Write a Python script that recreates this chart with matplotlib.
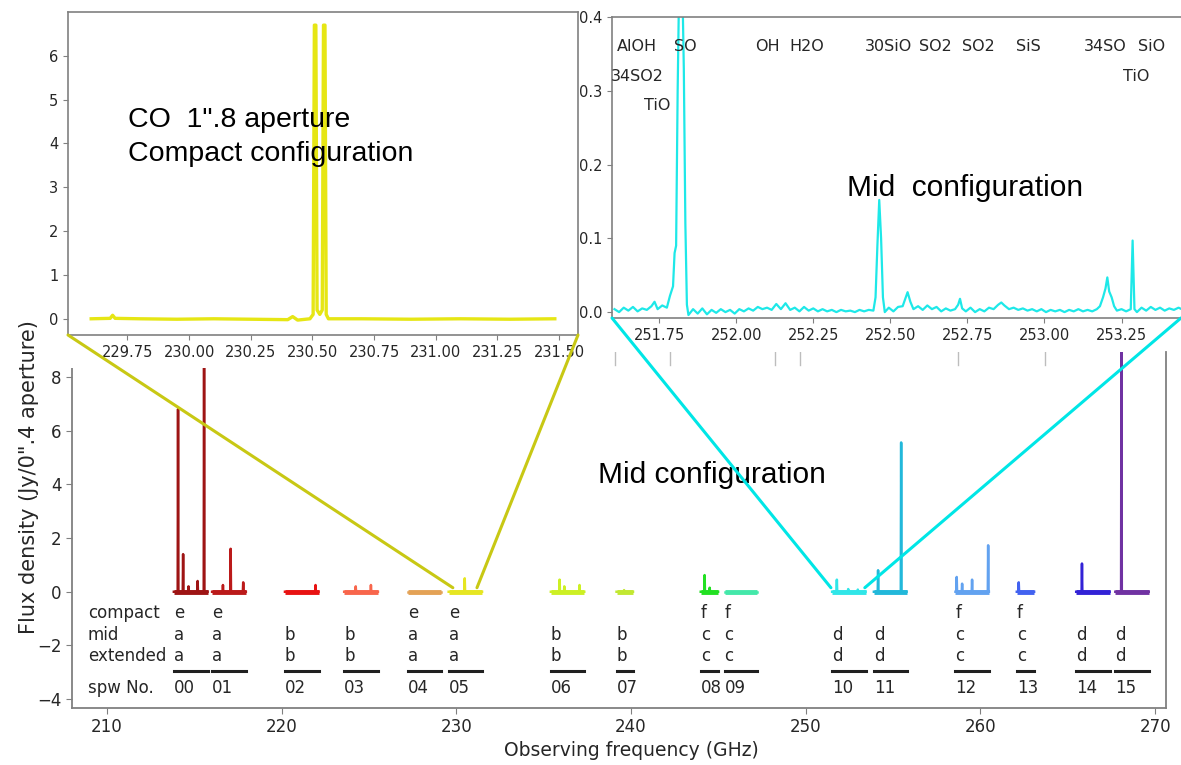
import numpy as np
import matplotlib
matplotlib.use('Agg')
import matplotlib.pyplot as plt
from matplotlib.patches import ConnectionPatch, Rectangle

# spectral windows of the full spectrum (GHz)
spw_names = ['00', '01', '02', '03', '04', '05', '06', '07',
             '08', '09', '10', '11', '12', '13', '14', '15']
spw_start = [213.83, 216.02, 220.19, 223.58, 227.24, 229.56, 235.41, 239.17,
             243.99, 245.35, 251.51, 253.90, 258.57, 262.08, 265.48, 267.72]
spw_end = [215.76, 217.95, 222.11, 225.51, 229.10, 231.47, 237.32, 240.11,
           244.98, 247.21, 253.42, 255.77, 260.48, 263.07, 267.39, 269.63]
spw_peaks = [
    [(214.07, 6.8), (214.36, 1.4), (214.67, 0.2), (215.19, 0.4), (215.56, 9.5)],
    [(216.64, 0.25), (217.08, 1.6), (217.80, 0.35)],
    [(221.94, 0.25)],
    [(224.24, 0.2), (225.11, 0.25)],
    [],
    [(230.48, 0.5)],
    [(235.91, 0.45), (236.18, 0.2), (237.05, 0.25)],
    [(239.60, 0.06)],
    [(244.21, 0.62), (244.50, 0.15)],
    [],
    [(251.78, 0.45), (252.43, 0.1), (252.98, 0.08)],
    [(254.14, 0.8), (255.46, 5.56)],
    [(258.64, 0.55), (258.95, 0.3), (259.52, 0.45), (260.44, 1.73)],
    [(262.19, 0.35)],
    [(265.81, 1.05)],
    [(268.07, 9.5)],
]
compact = ['e', 'e', '', '', 'e', 'e', '', '', 'f', 'f', '', '', 'f', 'f', '', '']
mid = ['a', 'a', 'b', 'b', 'a', 'a', 'b', 'b', 'c', 'c', 'd', 'd', 'c', 'c', 'd', 'd']
extended = ['a', 'a', 'b', 'b', 'a', 'a', 'b', 'b', 'c', 'c', 'd', 'd', 'c', 'c', 'd', 'd']
spw_colors = ['#9e1414', '#bb1a1a', '#e81212', '#f8664c', '#e4a256', '#e6e622',
              '#cdf024', '#c2e832', '#22e022', '#44e8aa', '#30e6e8', '#22b8da',
              '#62a2f0', '#4262f0', '#3222d6', '#7032a2']
top_marks = [239.08, 242.23, 248.24, 249.67, 258.71, 263.69]

# CO line, compact configuration (spw 05)
co_freq = [229.603, 229.68, 229.69, 229.70, 229.80, 229.95, 230.10, 230.25, 230.40,
           230.42, 230.44, 230.49, 230.503, 230.508, 230.514, 230.519, 230.530,
           230.540, 230.545, 230.551, 230.556, 230.565, 230.70, 230.90, 231.10,
           231.30, 231.483]
co_flux = [0.0, 0.01, 0.08, 0.01, 0.0, -0.01, 0.0, -0.01, -0.02,
           0.05, -0.03, 0.0, 0.1, 6.7, 6.7, 0.2, 0.1,
           0.2, 6.7, 6.7, 0.1, 0.0, 0.0, -0.01, 0.0,
           -0.01, 0.0]

# spw 10, mid configuration
mid_freq = [251.605, 251.62, 251.635, 251.65, 251.665, 251.68, 251.695, 251.71, 251.725,
            251.735, 251.745, 251.76, 251.775, 251.785, 251.795, 251.80, 251.805, 251.81,
            251.815, 251.825, 251.83, 251.835, 251.84, 251.845, 251.86, 251.875, 251.89,
            251.905, 251.92, 251.935, 251.95, 251.965, 251.98, 251.995, 252.01, 252.025,
            252.04, 252.055, 252.07, 252.085, 252.10, 252.115, 252.13, 252.145, 252.16,
            252.175, 252.19, 252.205, 252.22, 252.235, 252.25, 252.265, 252.28, 252.295,
            252.31, 252.325, 252.34, 252.355, 252.37, 252.385, 252.40, 252.415, 252.43,
            252.445, 252.452, 252.458, 252.464, 252.470, 252.476, 252.482, 252.495, 252.51,
            252.525, 252.54, 252.55, 252.556, 252.565, 252.575, 252.59, 252.605, 252.62,
            252.635, 252.65, 252.665, 252.68, 252.695, 252.71, 252.72, 252.726, 252.733,
            252.745, 252.76, 252.775, 252.79, 252.805, 252.82, 252.835, 252.85, 252.86,
            252.87, 252.885, 252.90, 252.915, 252.93, 252.945, 252.96, 252.975, 252.99,
            253.005, 253.02, 253.035, 253.05, 253.065, 253.08, 253.095, 253.11, 253.125,
            253.14, 253.155, 253.17, 253.18, 253.19, 253.198, 253.204, 253.21, 253.218,
            253.226, 253.235, 253.25, 253.265, 253.28, 253.286, 253.292, 253.30, 253.315,
            253.33, 253.345, 253.36, 253.375, 253.39, 253.405, 253.42, 253.435, 253.445]
mid_flux = [0.004, 0.000, 0.006, 0.002, 0.007, 0.001, 0.005, 0.003, 0.008,
            0.014, 0.004, 0.009, 0.006, 0.022, 0.035, 0.08, 0.09, 0.30,
            0.45, 0.45, 0.33, 0.12, 0.01, -0.004, 0.004, -0.002, 0.005,
            -0.003, 0.003, -0.001, 0.004, 0.000, 0.003, -0.002, 0.004, 0.001,
            0.005, 0.002, 0.007, 0.004, 0.006, 0.003, 0.011, 0.004, 0.012,
            0.003, 0.006, 0.001, 0.007, 0.002, 0.005, 0.001, 0.004, 0.001,
            0.003, 0.000, 0.003, 0.001, 0.002, 0.000, 0.003, 0.001, 0.003,
            0.002, 0.02, 0.09, 0.152, 0.10, 0.02, 0.0, 0.006, 0.001,
            0.007, 0.008, 0.02, 0.027, 0.014, 0.004, 0.008, 0.003, 0.009,
            0.004, 0.007, 0.001, 0.005, 0.002, 0.004, 0.010, 0.018, 0.005,
            0.001, 0.006, 0.000, 0.004, 0.001, 0.006, 0.004, 0.010, 0.013,
            0.009, 0.004, 0.006, 0.003, 0.005, 0.002, 0.004, 0.001, 0.004,
            0.000, 0.003, 0.001, 0.003, 0.000, 0.003, 0.001, 0.004, 0.001,
            0.003, 0.001, 0.004, 0.008, 0.02, 0.032, 0.047, 0.028, 0.02,
            0.008, 0.002, 0.004, 0.001, 0.004, 0.097, 0.004, 0.000, 0.006,
            0.002, 0.007, 0.003, 0.006, 0.002, 0.005, 0.003, 0.006, 0.004]
line_ids = [('AlOH', 251.678, 0.36), ('SO', 251.834, 0.36), ('OH', 252.10, 0.36),
            ('H2O', 252.23, 0.36), ('30SiO', 252.494, 0.36), ('SO2', 252.646, 0.36),
            ('SO2', 252.787, 0.36), ('SiS', 252.949, 0.36), ('34SO', 253.198, 0.36),
            ('SiO', 253.347, 0.36), ('34SO2', 251.68, 0.32), ('TiO', 253.297, 0.32),
            ('TiO', 251.742, 0.28)]

W, H = 1181, 765
fig = plt.figure(figsize=(W / 100, H / 100), dpi=100)
plt.rcParams['font.family'] = 'DejaVu Sans'

def box(x0, y0, x1, y1):
    # pixel box -> figure fraction
    return [x0 / W, 1 - y1 / H, (x1 - x0) / W, (y1 - y0) / H]

spine_c = '#808080'
text_c = '#262626'

# main spectrum
ax = fig.add_axes(box(72, 352, 1166, 708))
for i in range(len(spw_names)):
    xs = [spw_start[i]]
    ys = [0]
    for f, h in spw_peaks[i]:
        xs += [f - 0.02, f, f + 0.02]
        ys += [0, h, 0]
    xs.append(spw_end[i])
    ys.append(0)
    ax.plot(xs, ys, color=spw_colors[i], lw=1.8)
    ax.plot([spw_start[i], spw_end[i]], [0, 0], color=spw_colors[i], lw=3.5,
            solid_capstyle='butt')
    x0 = spw_start[i]
    ax.text(x0, -0.8, compact[i], fontsize=12, va='center', ha='left', color=text_c)
    ax.text(x0, -1.6, mid[i], fontsize=12, va='center', ha='left', color=text_c)
    ax.text(x0, -2.4, extended[i], fontsize=12, va='center', ha='left', color=text_c)
    ax.plot([spw_start[i], spw_end[i]], [-2.97, -2.97], color='#202020', lw=2.2)
    ax.text(x0, -3.6, spw_names[i], fontsize=12, va='center', ha='left', color=text_c)

for lab, yy in [('compact', -0.8), ('mid', -1.6), ('extended', -2.4), ('spw No.', -3.6)]:
    ax.text(208.9, yy, lab, fontsize=12, va='center', ha='left', color=text_c)

for f in top_marks:
    ax.plot([f, f], [8.93, 8.45], color='#bdbdbd', lw=1)

ax.set_xlim(208.0, 270.62)
ax.set_ylim(-4.33, 8.93)
ax.set_xticks(np.arange(210, 271, 10))
ax.set_yticks(np.arange(-4, 9, 2))
ax.tick_params(labelsize=12, colors=spine_c, labelcolor=text_c, length=4)
ax.spines['top'].set_visible(False)
for s in ['left', 'bottom', 'right']:
    ax.spines[s].set_color(spine_c)
    ax.spines[s].set_linewidth(1.3)
ax.text(238.1, 4.05, 'Mid configuration', family='Liberation Sans',
        fontsize=21.5, color='black', ha='left', va='baseline')

fig.text(29.5 / W, 1 - 477 / H, 'Flux density (Jy/0".4 aperture)', rotation=90,
         fontsize=15, ha='center', va='center', color=text_c)
fig.text(631 / W, 1 - 750 / H, 'Observing frequency (GHz)', fontsize=13.5,
         ha='center', va='center', color=text_c)

# white background of the CO inset picture
fig.add_artist(Rectangle((40 / W, 1 - 368 / H), 548 / W, 368 / H,
                         transform=fig.transFigure, facecolor='white',
                         edgecolor='none', zorder=1))

# CO inset
ax1 = fig.add_axes(box(68, 12, 578, 335), zorder=2)
ax1.plot(co_freq, co_flux, color='#e6e614', lw=2.4)
ax1.set_xlim(229.509, 231.577)
ax1.set_ylim(-0.37, 7.0)
ax1.set_xticks([229.75, 230.0, 230.25, 230.5, 230.75, 231.0, 231.25, 231.5])
ax1.set_xticklabels(['%.2f' % v for v in ax1.get_xticks()])
ax1.set_yticks(range(0, 7))
ax1.tick_params(labelsize=10.5, colors=spine_c, labelcolor=text_c, length=3.5)
for s in ax1.spines.values():
    s.set_color(spine_c)
    s.set_linewidth(1.2)
ax1.text(0.1176, 0.644, 'CO  1".8 aperture', transform=ax1.transAxes,
         family='Liberation Sans', fontsize=20.5, ha='left', va='baseline')
ax1.text(0.1176, 0.539, 'Compact configuration', transform=ax1.transAxes,
         family='Liberation Sans', fontsize=20.5, ha='left', va='baseline')

# mid configuration inset
ax2 = fig.add_axes(box(612, 17, 1181, 318), zorder=3)
ax2.plot(mid_freq, mid_flux, color='#1ee8e8', lw=1.6)
for lab, fx, fy in line_ids:
    ax2.text(fx, fy, lab, fontsize=11.5, ha='center', va='center', color=text_c)
ax2.text(252.36, 0.158, 'Mid  configuration', family='Liberation Sans', fontsize=21.5,
         ha='left', va='baseline')
ax2.set_xlim(251.597, 253.443)
ax2.set_ylim(-0.008, 0.4)
ax2.set_xticks([251.75, 252.0, 252.25, 252.5, 252.75, 253.0, 253.25])
ax2.set_xticklabels(['%.2f' % v for v in ax2.get_xticks()])
ax2.set_yticks([0.0, 0.1, 0.2, 0.3, 0.4])
ax2.set_yticklabels(['%.1f' % v for v in ax2.get_yticks()])
ax2.tick_params(labelsize=10.5, colors=spine_c, labelcolor=text_c, length=3.5)
ax2.spines['right'].set_visible(False)
for s in ax2.spines.values():
    s.set_color(spine_c)
    s.set_linewidth(1.2)

# zoom connectors
for xa, xb, a, col in [(0, 229.8, ax1, '#c8c814'), (1, 231.18, ax1, '#c8c814'),
                       (0, 251.44, ax2, '#00e6e6'), (1, 253.38, ax2, '#00e6e6')]:
    cp = ConnectionPatch(xyA=(xa, 0), coordsA=a.transAxes, xyB=(xb, 0.15),
                         coordsB=ax.transData, color=col, lw=2.2, zorder=5)
    fig.add_artist(cp)

fig.savefig('out.png', dpi=100)
